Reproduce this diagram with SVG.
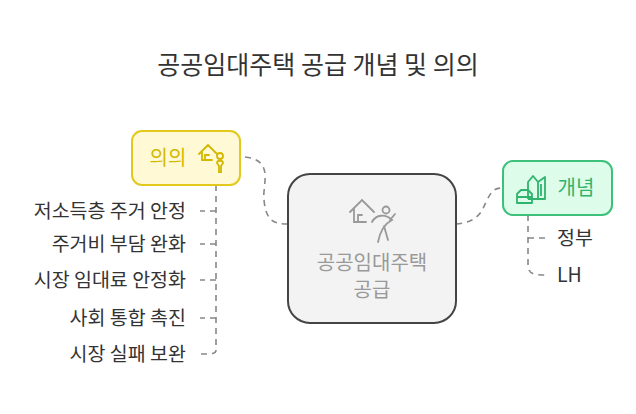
<svg xmlns="http://www.w3.org/2000/svg" width="636" height="414" viewBox="0 0 636 414">
<style>
text{font-family:"Noto Sans CJK KR","Noto Sans",sans-serif}
.lbl{font-size:19.5px;fill:#333}
.c{fill:none;stroke:#888;stroke-width:1.6;stroke-dasharray:6 5}
</style>
<rect width="636" height="414" fill="#fff"/>
<text x="318" y="74" text-anchor="middle" font-size="25" fill="#333">공공임대주택 공급 개념 및 의의</text>
<g id="connectors">
<path class="c" d="M245,157 C275,160 262,185 264,200 C266,222 275,224 288,224"/>
<path class="c" d="M456,224 C480,222 482,210 487,200 C492,190 495,188 503,188"/>
<path class="c" d="M216,185 V350 C216,354 212,354 200,354"/>
<path class="c" d="M216,211 H200 M216,244 H200 M216,280 H200 M216,318 H200"/>
<path class="c" d="M528,215 V265 C528,274 534,275 545,275 M528,238 H545"/>
</g>
<g id="center">
<rect x="288" y="174" width="168" height="149" rx="22" fill="#f3f3f3" stroke="#444" stroke-width="2"/>
<g fill="none" stroke="#999" stroke-width="1.8" stroke-linecap="round">
<path d="M350,212 L362,200 L374,212 M354,208 V222 H366 M358,222 V215 H362"/>
<circle cx="386" cy="210" r="3.5"/>
<path d="M372,222 C376,214 386,214 392,220 C384,224 380,232 378,242 M384,226 L388,240 M390,220 L395,214"/>
</g>
<text x="372" y="270" text-anchor="middle" font-size="20" fill="#999">공공임대주택</text>
<text x="372" y="297" text-anchor="middle" font-size="20" fill="#999">공급</text>
</g>
<g id="yiui">
<rect x="132" y="131" width="108" height="54" rx="10" fill="#fff9d6" stroke="#e3c91c" stroke-width="2"/>
<text x="168" y="165" text-anchor="middle" font-size="20" fill="#d4b800">의의</text>
<g fill="none" stroke="#d4b800" stroke-width="1.8" stroke-linecap="round">
<path d="M199,154 L208,145 L217,154 M202,151 V160 H212 M205,160 V155 H209"/>
<circle cx="220" cy="156" r="3"/><path d="M217,163 C217,160 223,160 223,163 L221,166 V172 H219 V166 Z"/>
</g>
</g>
<g id="gaenyeom">
<rect x="503" y="161" width="109" height="54" rx="10" fill="#defcea" stroke="#3cc07a" stroke-width="2"/>
<text x="576" y="195" text-anchor="middle" font-size="20" fill="#2fb36d">개념</text>
<g fill="none" stroke="#2fb36d" stroke-width="1.8" stroke-linejoin="round">
<path d="M528,199 V182 L533,176 L538,182 V199 M538,182 L545,177 V199 H528 M541,184 V196"/>
<path d="M517,203 V194 L521,190 H528 L532,194 V203 Z M517,197 H532"/>
</g>
</g>
<g id="items" class="lbl">
<text x="186" y="218" text-anchor="end" class="lbl">저소득층 주거 안정</text>
<text x="186" y="251" text-anchor="end" class="lbl">주거비 부담 완화</text>
<text x="186" y="287" text-anchor="end" class="lbl">시장 임대료 안정화</text>
<text x="186" y="325" text-anchor="end" class="lbl">사회 통합 촉진</text>
<text x="186" y="361" text-anchor="end" class="lbl">시장 실패 보완</text>
<text x="557" y="245" class="lbl">정부</text>
<text x="557" y="282" class="lbl">LH</text>
</g>
</svg>
